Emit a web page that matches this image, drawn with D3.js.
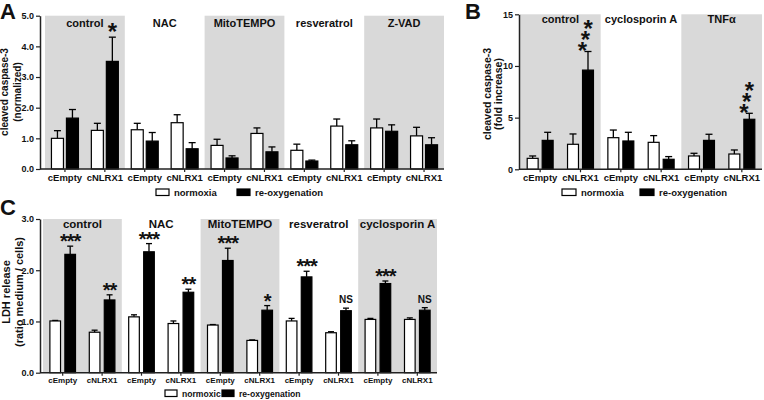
<!DOCTYPE html>
<html><head><meta charset="utf-8">
<script src="https://cdn.jsdelivr.net/npm/d3@7"></script>
<style>
body{margin:0;background:#fff}
svg{display:block}
text{font-family:"Liberation Sans",Arial,sans-serif;font-weight:bold;fill:#111}
</style>
</head><body>
<svg id="chart" width="764" height="400"></svg>
<script>
// ---------- data ----------
const cellLines = ["cEmpty", "cNLRX1"];

// Panel A: cleaved caspase-3 (normalized)
const groupsA = ["control", "NAC", "MitoTEMPO", "resveratrol", "Z-VAD"];
const normA    = [1.00, 1.26, 1.28, 1.51, 0.77, 1.16, 0.61, 1.40, 1.34, 1.08];
const normErrA = [0.25, 0.23, 0.21, 0.26, 0.20, 0.18, 0.20, 0.23, 0.29, 0.28];
const reoxA    = [1.66, 3.51, 0.91, 0.66, 0.36, 0.56, 0.26, 0.79, 1.23, 0.79];
const reoxErrA = [0.28, 0.79, 0.28, 0.20, 0.07, 0.16, 0.03, 0.13, 0.21, 0.23];
const sigA     = ["", "*", "", "", "", "", "", "", "", ""];
const ticksA   = [0, 1, 2, 3, 4, 5];

// Panel B: cleaved caspase-3 (fold increase)
const groupsB = ["control", "cyclosporin A", "TNFα"];
const normB    = [1.06, 2.42, 3.06, 2.61, 1.29, 1.48];
const normErrB = [0.23, 1.00, 0.74, 0.65, 0.26, 0.39];
const reoxB    = [2.80, 9.60, 2.74, 0.97, 2.80, 4.84];
const reoxErrB = [0.78, 1.80, 0.84, 0.26, 0.59, 0.58];
const sigB     = ["", "***", "", "", "", "***"];
const ticksB   = [0, 5, 10, 15];

// Panel C: LDH release (ratio medium / cells)
const groupsC = ["control", "NAC", "MitoTEMPO", "resveratrol", "cyclosporin A"];
const normC    = [1.01, 0.79, 1.09, 0.96, 0.93, 0.63, 1.01, 0.78, 1.04, 1.04];
const normErrC = [0.01, 0.04, 0.04, 0.05, 0.01, 0.01, 0.05, 0.02, 0.02, 0.03];
const reoxC    = [2.31, 1.42, 2.36, 1.57, 2.19, 1.22, 1.87, 1.21, 1.74, 1.22];
const reoxErrC = [0.16, 0.10, 0.16, 0.06, 0.24, 0.09, 0.11, 0.05, 0.05, 0.05];
const sigC     = ["***", "**", "***", "**", "***", "*", "***", "NS", "***", "NS"];
const ticksC   = [0, 1, 2, 3];

// ---------- drawing ----------
const svg = d3.select("#chart");
const FONT = '"Liberation Sans",Arial,sans-serif';

function panel(cfg) {
  const g = svg.append("g");
  const nSub = cfg.groups.length * cellLines.length;
  const subIdx = d3.range(nSub).map(String);
  const y = d3.scaleLinear().domain([0, cfg.yMax]).range([cfg.y0, cfg.yTop]);
  const xGroup = d3.scaleBand().domain(cfg.groups).range([cfg.x0, cfg.x1]).padding(0);
  const xSub = d3.scaleBand().domain(subIdx).range([cfg.x0, cfg.x1]).padding(0);
  const xIn = d3.scaleBand().domain(["norm", "reox"]).range([0, xSub.bandwidth()])
    .paddingInner(cfg.pIn).paddingOuter(cfg.pOut);

  // shaded bands
  g.selectAll("rect.band").data(cfg.groups.filter((d, i) => i % 2 === 0)).join("rect")
    .attr("x", d => xGroup(d)).attr("width", xGroup.bandwidth())
    .attr("y", y(cfg.yMax)).attr("height", y(0) - y(cfg.yMax))
    .attr("fill", "#d9d9d9");

  // group labels
  g.selectAll("text.grp").data(cfg.groups).join("text")
    .attr("x", d => xGroup(d) + xGroup.bandwidth() / 2)
    .attr("y", cfg.grpY).attr("text-anchor", "middle")
    .attr("font-size", cfg.grpFs).text(d => d);

  // bars
  const rows = d3.range(nSub).map(i => ({
    i, norm: cfg.norm[i], normErr: cfg.normErr[i],
    reox: cfg.reox[i], reoxErr: cfg.reoxErr[i], sig: cfg.sig[i]
  }));
  const series = [
    {key: "norm", fill: "#fff"},
    {key: "reox", fill: "#000"}
  ];
  series.forEach(s => {
    const bx = d => xSub(String(d.i)) + xIn(s.key);
    const bw = xIn.bandwidth();
    g.selectAll("line.e" + s.key).data(rows).join("line")
      .attr("x1", d => bx(d) + bw / 2).attr("x2", d => bx(d) + bw / 2)
      .attr("y1", d => y(d[s.key])).attr("y2", d => y(d[s.key] + d[s.key + "Err"]))
      .attr("stroke", "#000").attr("stroke-width", 1.3);
    g.selectAll("line.c" + s.key).data(rows).join("line")
      .attr("x1", d => bx(d) + bw / 2 - cfg.cap / 2).attr("x2", d => bx(d) + bw / 2 + cfg.cap / 2)
      .attr("y1", d => y(d[s.key] + d[s.key + "Err"])).attr("y2", d => y(d[s.key] + d[s.key + "Err"]))
      .attr("stroke", "#000").attr("stroke-width", 1.3);
    g.selectAll("rect.b" + s.key).data(rows).join("rect")
      .attr("x", d => bx(d)).attr("width", bw)
      .attr("y", d => y(d[s.key])).attr("height", d => y(0) - y(d[s.key]))
      .attr("fill", s.fill).attr("stroke", "#000").attr("stroke-width", 1.2);
  });

  // significance marks above re-oxygenation bars
  const rx = d => xSub(String(d.i)) + xIn("reox") + xIn.bandwidth() / 2;
  const topY = d => y(d.reox + d.reoxErr);
  const sigRows = rows.filter(d => d.sig);
  if (cfg.stack) {
    // stars stacked upward, slightly tilted: one text element, one glyph per position
    g.selectAll("text.sig").data(sigRows).join("text")
      .attr("x", d => d.sig.split("").map((c, k) => (rx(d) - 5.5 + k * 2.8).toFixed(1)).join(" "))
      .attr("y", d => d.sig.split("").map((c, k) => (topY(d) + 7.4 - k * 11).toFixed(1)).join(" "))
      .attr("text-anchor", "middle").attr("font-size", cfg.starFs).text(d => d.sig);
  } else {
    g.selectAll("text.sig").data(sigRows).join("text")
      .attr("x", d => rx(d)).attr("text-anchor", "middle")
      .attr("y", d => d.sig === "NS" ? topY(d) - 5 : topY(d) + cfg.starDy)
      .attr("font-size", d => d.sig === "NS" ? cfg.nsFs : cfg.starFs)
      .attr("letter-spacing", d => d.sig === "NS" ? 0 : cfg.starLs || 0)
      .text(d => d.sig);
  }

  // y axis
  const ya = g.append("g").attr("transform", `translate(${cfg.axisX},0)`)
    .call(d3.axisLeft(y).tickValues(cfg.ticks).tickSize(4).tickSizeOuter(0).tickPadding(2));
  ya.select(".domain").attr("stroke", "#222").attr("stroke-width", 1.5);
  ya.selectAll(".tick line").attr("stroke", "#222").attr("stroke-width", 1.2);
  ya.selectAll(".tick text").attr("font-size", cfg.yTickFs)
    .style("font-family", FONT).style("font-weight", "bold").attr("fill", "#111");

  // x axis
  const xa = g.append("g").attr("transform", `translate(0,${cfg.y0})`)
    .call(d3.axisBottom(xSub).tickSize(3).tickSizeOuter(0).tickPadding(cfg.xPad)
      .tickFormat(d => cellLines[(+d) % cellLines.length]));
  xa.select(".domain").remove();
  xa.append("line").attr("x1", cfg.axisX).attr("x2", cfg.x1).attr("y1", 0).attr("y2", 0)
    .attr("stroke", "#222").attr("stroke-width", 1.5);
  xa.selectAll(".tick line").attr("stroke", "#222").attr("stroke-width", 1.2);
  xa.selectAll(".tick text").attr("font-size", cfg.xTickFs)
    .style("font-family", FONT).style("font-weight", "bold").attr("fill", "#111");

  // y label
  cfg.yLabel.forEach((t, k) => {
    g.append("text")
      .attr("transform", `translate(${cfg.yLabX[k]},${cfg.yLabY}) rotate(-90)`)
      .attr("text-anchor", "middle").attr("font-size", cfg.yLabFs).text(t);
  });

  // panel letter
  g.append("text").attr("x", cfg.letterX).attr("y", cfg.letterY)
    .attr("font-size", 22).text(cfg.letter);

  // legend
  const L = cfg.legend;
  g.append("rect").attr("x", L.x1).attr("y", L.y - 7).attr("width", L.bw).attr("height", 6.5)
    .attr("fill", "#fff").attr("stroke", "#000").attr("stroke-width", 1.2);
  g.append("text").attr("x", L.x1 + L.bw + 5).attr("y", L.y).attr("font-size", L.fs).text(L.t1);
  g.append("rect").attr("x", L.x2).attr("y", L.y - 7).attr("width", L.bw).attr("height", 6.5)
    .attr("fill", "#000").attr("stroke", "#000").attr("stroke-width", 1.2);
  g.append("text").attr("x", L.x2 + L.bw + 5).attr("y", L.y).attr("font-size", L.fs).text(L.t2);
}

panel({
  groups: groupsA, norm: normA, normErr: normErrA, reox: reoxA, reoxErr: reoxErrA, sig: sigA,
  ticks: ticksA, yMax: 5, axisX: 40, x0: 45, x1: 444, y0: 169, yTop: 15.7,
  pIn: 0.2, pOut: 0.43, cap: 7, grpY: 27, grpFs: 11,
  starFs: 24, starDy: 3, nsFs: 10, yTickFs: 9, xTickFs: 9.5, xPad: 2,
  yLabel: ["cleaved caspase-3", "(normalized)"], yLabX: [8, 21], yLabY: 92, yLabFs: 10,
  letter: "A", letterX: 0, letterY: 19,
  legend: {x1: 156, x2: 237, y: 196, bw: 13, fs: 9.5, t1: "normoxia", t2: "re-oxygenation"}
});

panel({
  groups: groupsB, norm: normB, normErr: normErrB, reox: reoxB, reoxErr: reoxErrB, sig: sigB,
  ticks: ticksB, yMax: 15, axisX: 519, x0: 520, x1: 762, y0: 169.3, yTop: 14.3,
  pIn: 0.27, pOut: 0.48, cap: 7, grpY: 23, grpFs: 11, stack: true,
  starFs: 24, nsFs: 10, yTickFs: 9, xTickFs: 9.5, xPad: 2,
  yLabel: ["cleaved caspase-3", "(fold increase)"], yLabX: [491, 502], yLabY: 94, yLabFs: 10.5,
  letter: "B", letterX: 465, letterY: 19,
  legend: {x1: 562, x2: 640, y: 196, bw: 14, fs: 9.5, t1: "normoxia", t2: "re-oxygenation"}
});

panel({
  groups: groupsC, norm: normC, normErr: normErrC, reox: reoxC, reoxErr: reoxErrC, sig: sigC,
  ticks: ticksC, yMax: 3, axisX: 40, x0: 43, x1: 437, y0: 372.7, yTop: 219,
  pIn: 0.29, pOut: 0.46, cap: 6, grpY: 228, grpFs: 11.5,
  starFs: 20, starDy: 2, starLs: -1, nsFs: 10, yTickFs: 9, xTickFs: 8, xPad: 2,
  yLabel: ["LDH release", "(ratio medium / cells)"], yLabX: [10, 23], yLabY: 292, yLabFs: 11,
  letter: "C", letterX: 0, letterY: 215,
  legend: {x1: 165, x2: 222, y: 397, bw: 12, fs: 8.6, t1: "normoxic", t2: "re-oxygenation"}
});
</script>
</body></html>
